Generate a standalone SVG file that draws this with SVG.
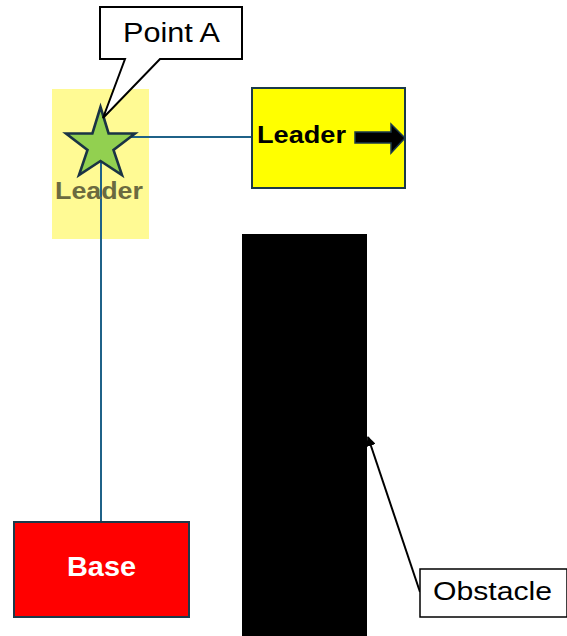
<svg xmlns="http://www.w3.org/2000/svg" width="567" height="636" viewBox="0 0 567 636">
  <style>
    .box { stroke: #1B3A4B; stroke-width: 2; }
    .callout { fill: #FFFFFF; stroke: #000000; stroke-width: 2; stroke-linejoin: miter; }
    .link { fill: none; stroke: #1F6288; stroke-width: 2; }
    .bold { font-family: "Liberation Sans", Arial, sans-serif; font-weight: bold; }
    .thin { font-family: "Liberation Sans", Arial, sans-serif; font-weight: normal; fill: #000000; }
  </style>
  <defs>
    <marker id="tip" viewBox="0 0 10 10" refX="9" refY="5" markerWidth="5" markerHeight="5" orient="auto-start-reverse">
      <path d="M0,0 L10,5 L0,10 Z" fill="#000000"/>
    </marker>
  </defs>

  <rect width="567" height="636" fill="#FFFFFF"/>

  <!-- obstacle block -->
  <g id="obstacle">
    <rect x="242" y="234" width="125" height="402" fill="#000000"/>
  </g>

  <!-- highlight behind the leader star -->
  <g id="leader-zone">
    <rect x="52" y="89" width="97" height="150" fill="#FFFA94"/>
  </g>

  <!-- connectors -->
  <g id="connectors">
    <line class="link" x1="101" y1="137" x2="252" y2="137"/>
    <line class="link" x1="101" y1="150" x2="101" y2="521"/>
  </g>

  <!-- leader star -->
  <g id="leader-star">
    <polygon points="100.5,107 108.6,133.5 135,133.5 113.5,150 122,175 100.5,161 79,175 87.5,150 66,133.5 92.4,133.5"
             fill="#92D050" stroke="#1A3344" stroke-width="2.6" stroke-linejoin="miter"/>
    <text class="bold" x="99" y="199" font-size="23" fill="#6B6A40" text-anchor="middle" textLength="88" lengthAdjust="spacingAndGlyphs">Leader</text>
  </g>

  <!-- leader box with direction arrow -->
  <g id="leader-box">
    <rect class="box" x="252" y="88" width="153" height="100" fill="#FFFF00"/>
    <text class="bold" x="257" y="143" font-size="24" fill="#000000" textLength="89" lengthAdjust="spacingAndGlyphs">Leader</text>
    <polygon points="355,132 391,132 391,124 405,138 391,153 391,143 355,143" fill="#000000" stroke="#1B3A4B" stroke-width="1.5"/>
  </g>

  <!-- base box -->
  <g id="base">
    <rect class="box" x="14" y="522" width="175" height="95" fill="#FF0000"/>
    <text class="bold" x="101.5" y="576" font-size="28" fill="#FFFFFF" text-anchor="middle" textLength="69" lengthAdjust="spacingAndGlyphs">Base</text>
  </g>

  <!-- callout: Point A -->
  <g id="point-a">
    <path class="callout" d="M100,7 H242 V59 H160 L103,118 L125,59 H100 Z"/>
    <text class="thin" x="123" y="42" font-size="27" textLength="97" lengthAdjust="spacingAndGlyphs">Point A</text>
  </g>

  <!-- callout: Obstacle -->
  <g id="obstacle-label">
    <line x1="420" y1="592" x2="368" y2="437" stroke="#000000" stroke-width="2" marker-end="url(#tip)"/>
    <rect x="420" y="569" width="147" height="48" fill="#FFFFFF" stroke="#000000" stroke-width="1.5"/>
    <text class="thin" x="433" y="600" font-size="26" textLength="119" lengthAdjust="spacingAndGlyphs">Obstacle</text>
  </g>
</svg>
